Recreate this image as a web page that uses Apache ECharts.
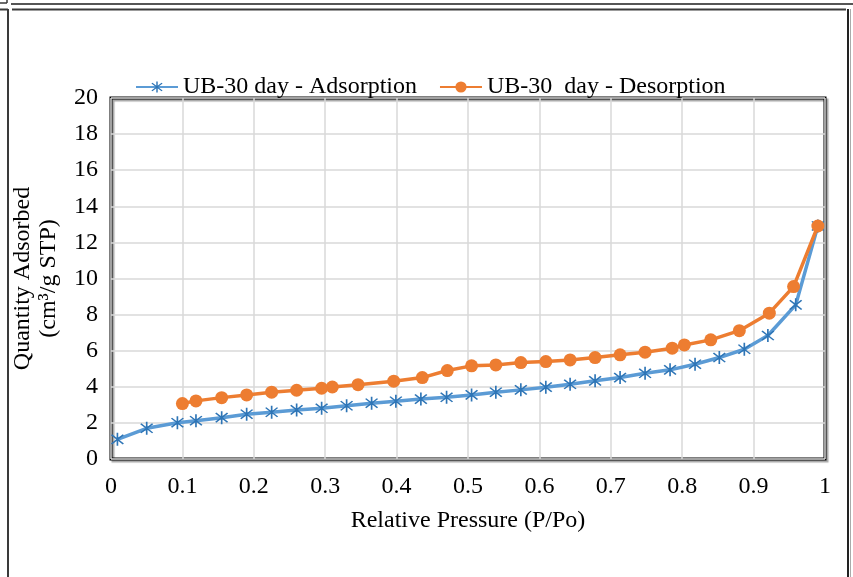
<!DOCTYPE html>
<html>
<head>
<meta charset="utf-8">
<title>UB-30 day isotherm</title>
<script src="https://cdn.jsdelivr.net/npm/echarts@6/dist/echarts.min.js"></script>
<style>
  html, body { margin: 0; padding: 0; background: #fff; }
  #main { width: 853px; height: 577px; }
</style>
</head>
<body>
<div id="main"></div>
<script>
// adsorption branch
var adsX = [0.009, 0.050, 0.093, 0.119, 0.155, 0.190, 0.225, 0.260, 0.295, 0.330, 0.365, 0.399, 0.434, 0.470, 0.505,
  0.539, 0.574, 0.609, 0.643, 0.678, 0.713, 0.748, 0.783, 0.818, 0.852, 0.887, 0.920, 0.959, 0.990];
var adsY = [1.09, 1.70, 2.01, 2.12, 2.29, 2.48, 2.59, 2.72, 2.81, 2.95, 3.09, 3.20, 3.32, 3.42, 3.55,
  3.70, 3.83, 3.98, 4.14, 4.33, 4.51, 4.75, 4.94, 5.25, 5.62, 6.08, 6.84, 8.54, 12.91];
// desorption branch
var desX = [0.990, 0.956, 0.922, 0.880, 0.840, 0.803, 0.786, 0.748, 0.713, 0.678, 0.643, 0.609, 0.574, 0.539,
  0.505, 0.471, 0.436, 0.396, 0.346, 0.310, 0.295, 0.260, 0.225, 0.190, 0.155, 0.119, 0.100];
var desY = [12.91, 9.55, 8.08, 7.11, 6.60, 6.32, 6.14, 5.92, 5.77, 5.62, 5.49, 5.40, 5.34, 5.21,
  5.16, 4.90, 4.51, 4.31, 4.12, 3.99, 3.92, 3.81, 3.70, 3.55, 3.40, 3.22, 3.07];

var seriesNames = ['UB-30 day - Adsorption', 'UB-30  day - Desorption'];
var xTitle = 'Relative Pressure (P/Po)';
var yTitle = 'Quantity Adsorbed\n(cm\u00b3/g STP)';

function pairs(xs, ys) {
  var out = [];
  for (var i = 0; i < xs.length; i++) out.push([xs[i], ys[i]]);
  return out;
}

// asterisk marker like the excel "star"
var starPath = 'path://M9 0L11 0L11 20L9 20Z' +
  'M3.64 2.22L17.78 16.36L16.36 17.78L2.22 3.64Z' +
  'M16.36 2.22L17.78 3.64L3.64 17.78L2.22 16.36Z';

var font = 'Liberation Serif';
var fs = 24;
var frameColor = '#3a3a3a';

var chart = echarts.init(document.getElementById('main'));
chart.setOption({
  backgroundColor: '#fff',
  animation: false,
  textStyle: { fontFamily: font, color: '#000' },
  legend: {
    top: 75,
    left: 135,
    padding: 0,
    itemWidth: 42,
    itemHeight: 14,
    itemGap: 22,
    textStyle: { fontFamily: font, fontSize: fs, color: '#000' },
    data: seriesNames
  },
  grid: {
    left: 111,
    right: 28,
    top: 98,
    bottom: 118,
    show: true,
    borderColor: '#000',
    borderWidth: 3,
    shadowColor: 'rgba(0,0,0,0.35)',
    shadowOffsetX: 2,
    shadowOffsetY: 2,
    shadowBlur: 1
  },
  xAxis: {
    type: 'value',
    min: 0,
    max: 1,
    interval: 0.1,
    name: xTitle,
    nameLocation: 'middle',
    nameGap: 50,
    nameTextStyle: { fontFamily: font, fontSize: fs, color: '#000' },
    axisLine: { show: false },
    axisTick: { show: false },
    axisLabel: { fontFamily: font, fontSize: fs, color: '#000', margin: 16 },
    splitLine: { show: true, lineStyle: { color: '#d9d9d9', width: 1.5 } }
  },
  yAxis: {
    type: 'value',
    min: 0,
    max: 20,
    interval: 2,
    name: yTitle,
    nameLocation: 'middle',
    nameGap: 49,
    nameTextStyle: { fontFamily: font, fontSize: fs, color: '#000', lineHeight: 26 },
    axisLine: { show: false },
    axisTick: { show: false },
    axisLabel: { fontFamily: font, fontSize: fs, color: '#000', margin: 13 },
    splitLine: { show: true, lineStyle: { color: '#d9d9d9', width: 1.5 } }
  },
  series: [
    {
      name: seriesNames[0],
      type: 'line',
      data: pairs(adsX, adsY),
      symbol: starPath,
      symbolSize: 13,
      lineStyle: { color: '#5B9BD5', width: 3.5 },
      itemStyle: { color: '#2E75B6' }
    },
    {
      name: seriesNames[1],
      type: 'line',
      data: pairs(desX, desY),
      symbol: 'circle',
      symbolSize: 13,
      lineStyle: { color: '#ED7D31', width: 3.5 },
      itemStyle: { color: '#ED7D31' }
    }
  ],
  // page frame lines around the figure
  graphic: [
    { type: 'line', shape: { x1: 0, y1: 3, x2: 7, y2: 3 }, style: { stroke: frameColor, lineWidth: 1.5 } },
    { type: 'line', shape: { x1: 7, y1: 0, x2: 7, y2: 3 }, style: { stroke: frameColor, lineWidth: 1.5 } },
    { type: 'line', shape: { x1: 11, y1: 4, x2: 853, y2: 4 }, style: { stroke: '#555', lineWidth: 2 } },
    { type: 'line', shape: { x1: 0, y1: 9.5, x2: 8, y2: 9.5 }, style: { stroke: frameColor, lineWidth: 2 } },
    { type: 'line', shape: { x1: 12, y1: 9.5, x2: 846, y2: 9.5 }, style: { stroke: frameColor, lineWidth: 2 } },
    { type: 'line', shape: { x1: 8, y1: 9, x2: 8, y2: 577 }, style: { stroke: frameColor, lineWidth: 2 } },
    { type: 'line', shape: { x1: 848, y1: 9, x2: 848, y2: 577 }, style: { stroke: '#222', lineWidth: 2 } },
    { type: 'line', shape: { x1: 850.5, y1: 9, x2: 850.5, y2: 577 }, style: { stroke: '#aaa', lineWidth: 1 } }
  ]
});
</script>
</body>
</html>
